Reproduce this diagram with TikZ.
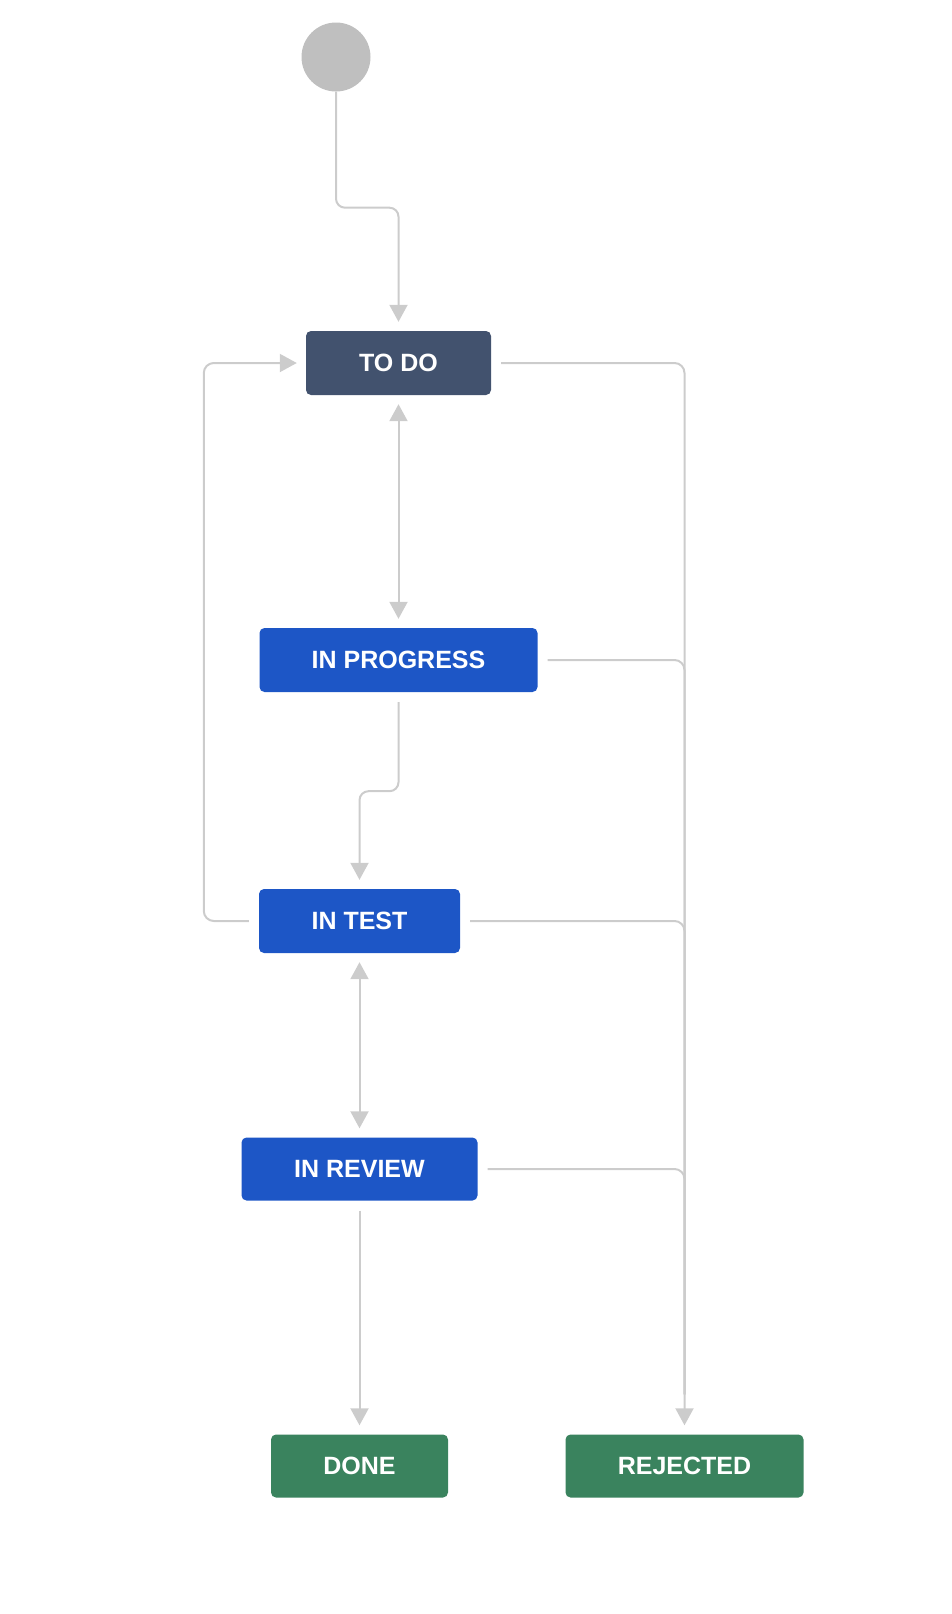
\documentclass[tikz,border=0pt]{standalone}
\usepackage{fontspec}
\setmainfont{Liberation Sans}
\usetikzlibrary{arrows.meta,calc}
\definecolor{todocol}{HTML}{42526E}
\definecolor{bluecol}{HTML}{1D56C6}
\definecolor{greencol}{HTML}{3A835E}
\definecolor{linecol}{HTML}{CCCCCC}
\definecolor{startcol}{HTML}{BFBFBF}
\tikzset{
  status/.style={draw=none, rounded corners=5pt, inner sep=0pt, text=white,
    font=\fontsize{25}{30}\selectfont\bfseries, minimum height=64pt},
  todobox/.style={status, fill=todocol},
  bluebox/.style={status, fill=bluecol},
  greenbox/.style={status, fill=greencol},
  conn/.style={draw=linecol, line width=2pt, rounded corners=10pt,
    shorten <=10pt},
  arr/.style={conn, -{Triangle[width=18pt,length=17pt]}, shorten >=9pt},
  darr/.style={conn, {Triangle[width=18pt,length=17pt]}-{Triangle[width=18pt,length=17pt]}, shorten >=9pt, shorten <=9pt},
  merge/.style={conn, shorten >=40pt},
}
\begin{document}
\begin{tikzpicture}[x=1pt,y=-1pt]
\useasboundingbox (0,0) rectangle (952,1614);
\node[circle, fill=startcol, minimum size=69pt, inner sep=0pt] (start) at (336,57) {};
\node[todobox, minimum width=185pt] (todo) at (398.5,363) {TO DO};
\node[bluebox, minimum width=278pt] (inprog) at (398.5,660) {IN PROGRESS};
\node[bluebox, minimum width=201pt] (intest) at (359.5,921) {IN TEST};
\node[bluebox, minimum width=236pt, minimum height=63pt] (inreview) at (359.5,1169) {IN REVIEW};
\node[greenbox, minimum width=177pt, minimum height=63pt] (done) at (359.5,1466) {DONE};
\node[greenbox, minimum width=238pt, minimum height=63pt] (rejected) at (684.5,1466) {REJECTED};

% merging lines into the REJECTED trunk
\draw[merge] (inprog.east) -| (rejected.north);
\draw[merge] (intest.east) -| (rejected.north);
\draw[merge] (inreview.east) -| (rejected.north);

\draw[arr, shorten <=0pt, rounded corners=9pt] (start.south) -- ++(0,116) -| (todo.north);
\draw[darr] (todo.south) -- (inprog.north);
\draw[arr, rounded corners=9pt] (inprog.south) -- ++(0,99) -| (intest.north);
\draw[darr] (intest.south) -- (inreview.north);
\draw[arr] (inreview.south) -- (done.north);
\draw[arr] (intest.west) -- ++(-55,0) |- (todo.west);
\draw[arr] (todo.east) -| (rejected.north);
\end{tikzpicture}
\end{document}
